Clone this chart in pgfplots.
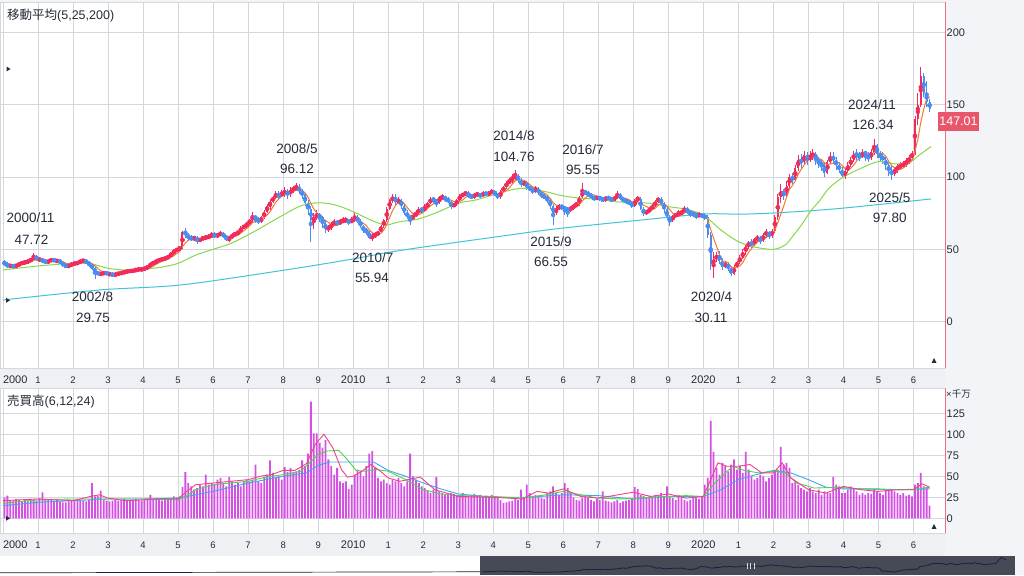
\documentclass[border=0pt]{standalone}
\usepackage{pgfplots}
\usepackage{pgfplotstable}
\pgfplotsset{compat=1.18}
\usepackage{fontspec}
\setmainfont{Liberation Sans}
\newfontfamily\cjk{Noto Sans CJK JP}
\definecolor{pagebg}{HTML}{F3F4F7}
\definecolor{stripbg}{HTML}{EEF0F3}
\definecolor{gridc}{HTML}{D4D7DC}
\definecolor{txt}{HTML}{262B3A}
\definecolor{upc}{HTML}{F22B5B}
\definecolor{dnc}{HTML}{4A8CEF}
\definecolor{maA}{HTML}{F07A32}
\definecolor{maB}{HTML}{86D94A}
\definecolor{maC}{HTML}{3FC6D6}
\definecolor{volc}{HTML}{D350E2}
\definecolor{vmA}{HTML}{F2408A}
\definecolor{vmB}{HTML}{55D04A}
\definecolor{vmC}{HTML}{3FA6EE}
\definecolor{axred}{HTML}{EC6F7E}
\definecolor{pricebox}{HTML}{E8566C}
\definecolor{navdark}{HTML}{464956}
\definecolor{navline}{HTML}{1B2136}
\newcommand\Y[1]{{\fontsize{11}{12}\selectfont #1}}

% monthly candles Jan 2000 - Jun 2026: open high low close volume(x10M)
\pgfplotstableread{
o h l c v
41 42.5 38.5 40 25
40 41 37 38 27
38 40 37 39 22
39 40 36.5 38 21
38 40 37.5 39 23
39 41 38 40 22
40 42 39 41 20
41 42.5 39.5 41 22
41 43 40 42 21
42 44 41 43 23
43 47.72 42 45 22
45 46 42 43 21
43 44.5 41.5 43 24
43 44 40.5 42 31
42 43 40 41 23
41 43 40 42 22
42 44 41 43 23
43 44 41 42 21
42 43.5 40.5 42 22
42 43 40 41 20
41 42 38 39 19
39 40 37 38 19
38 40 37 39 20
39 41 38 40 21
40 41.5 39 40 22
40 42 39 41 21
41 43 40 42 22
42 43.5 41 42 21
42 43 40 41 20
41 42 38 39 22
39 40 36 37 42
37 38 29.75 34 26
34 35 32 33 27
33 34.5 31.5 33 33
33 35 32 34 22
34 35 32 33 21
33 34 31.5 33 20
33 34 31 32 21
32 34 31 33 22
33 34.5 32 33 21
33 35 32.5 34 22
34 35.5 33 34 23
34 36 33.5 35 22
35 36 34 35 21
35 36.5 34 35 22
35 37 34.5 36 23
36 37.5 35 36 22
36 37.5 35 36 21
36 38 35.5 37 22
37 39 36 38 23
38 41 37.5 40 28
40 42 39 41 23
41 43 40 42 22
42 44 41 43 23
43 44.5 42 43 21
43 45 42.5 44 22
44 46 43 45 23
45 48 44.5 47 24
47 50 46 49 26
49 51 48 50 25
50 52.5 49 51 26
51 63 50 62 37
62 65 58 60 55
60 61 56 58 42
58 60 55.5 57 38
57 59.5 56 58 34
58 59 54 56 36
56 58 55 57 40
57 59.5 56 58 38
58 60 56.5 58 52
58 60.5 57 59 40
59 62 58 60 42
60 62 58 59 40
59 61.5 58 60 46
60 62.5 59 61 48
61 62 58 59 42
59 60 55.5 57 38
57 59 55 58 49
58 61 57 60 44
60 62 59 61 40
61 63 60 62 42
62 66 61 65 38
65 67 64 66 44
66 69 65 68 46
68 71 67 70 44
70 75.5 69 73 46
73 74 68 71 64
71 72 67.5 69 44
69 73 68 72 42
72 77 71 76 48
76 81 75 80 52
80 84.5 77 83 69
83 87 82 86 54
86 90 85 88 48
88 90 84 87 50
87 91 86 89 46
89 93 86 90 61
90 92 85 88 55
88 93 86 91 60
91 94 89 92 54
92 96.12 90 93 56
93 95 88 90 58
90 92 85 88 69
88 89 80 82 62
82 84 74 78 77
78 80 55 70 139
70 75 64 72 101
72 77 70 74 101
74 75 69 72 90
72 73 65 68 84
68 70 61 64 93
64 67 62 65 70
65 69 63.5 67 62
67 71 66 69 52
69 70 66 68 60
68 71 67 69 44
69 72 68 70 42
70 72 68.5 70 44
70 71 67 69 35
69 72 68 70 40
70 75 69 72 52
72 74 68 69 58
69 71 65 66 56
66 67 61 63 50
63 65 60 62 62
62 63 57 58 77
58 61 55.94 59 80
59 62 58 60 60
60 63 59 62 48
62 67 61 66 44
66 71 65 70 46
70 79 69 78 42
78 85 77 84 40
84 88 82 86 46
86 88 80 83 44
83 86 81 84 48
84 85 78 80 42
80 81 74 75 38
75 77 71 73 44
73 74 67 71 77
71 75 70 73 50
73 77 72 75 46
75 79 74 78 42
78 79 75 77 38
77 81 76 79 36
79 83 78 82 33
82 86 81 85 30
85 86 82 84 34
84 85 79 82 49
82 87 81 86 32
86 88 84 86 30
86 87 83 85 28
85 86 82 83 28
83 84 78 80 30
80 82 79 81 29
81 85 80 84 27
84 88 83 87 28
87 89 86 88 30
88 90.5 87 89 27
89 90 85.5 87 26
87 88 84.5 86 28
86 89 85 88 29
88 89.5 86.5 88 27
88 89 85.5 87 28
87 90 86 89 26
89 90 87 88 27
88 90 87 89 26
89 91.5 88 90 28
90 91 87 88 24
88 89 85 86 25
86 91 85 90 22
90 94 89 93 18
93 97 92 96 19
96 99 95 97 20
97 102 96 99 21
99 104.76 98 101 23
101 102 96 98 22
98 99 93 95 34
95 97.5 94 96 25
96 97 91 93 40
93 94 90 92 30
92 93 88 90 26
90 94 89 92 28
92 93 87.5 89 27
89 90 85.5 87 24
87 88 84.5 86 23
86 87 82 84 30
84 85 78 80 32
80 81 66.55 75 38
75 80 74 78 30
78 81 77 80 28
80 81 77 79 30
79 80 74 78 42
78 79 72 77 36
77 80 76 79 30
79 81 77.5 80 25
80 83 79 82 22
82 87 80 86 21
86 95.55 85 90 24
90 91 87.5 89 28
89 90 86.5 88 24
88 89 85 86 22
86 87 83.5 85 20
85 87 84 86 23
86 87 83.5 85 22
85 86 82.5 84 32
84 87 83 86 21
86 87 84 85 20
85 86 82.5 84 19
84 87 83 86 20
86 90 85 88 22
88 89 84 85 18
85 86 82.5 84 20
84 85 81.5 83 21
83 84 80.5 82 22
82 83 78.5 80 24
80 85 79 84 37
84 87 83 85 35
85 86 77 78 28
78 79 73 75 27
75 77.5 74 76 24
76 79 75 78 26
78 81 77 80 25
80 84 79 83 28
83 86.5 82 85 27
85 86 80 82 30
82 83 75 78 26
78 79 70 72 38
72 74 66 70 26
70 74 69 73 24
73 75 72 74 22
74 77 73 75 28
75 77.5 73 76 25
76 80 75 78 22
78 79 74.5 76 20
76 77 72 75 22
75 76 72.5 74 24
74 75 71 73 25
73 75.5 72 74 23
74 75 71.5 73 26
73 75 70 72 40
72 74 58 60 48
60 62 36 40 116
40 48 30.11 43 79
43 48 41 46 60
46 49 40 42 52
42 44 36 38 66
38 42 37 40 62
40 41 35 37 56
37 38 31.5 33 64
33 39 32 38 70
38 42 37 41 58
41 46 40 44 62
44 50 43 48 54
48 54 46 52 79
52 56 50 55 58
55 57 51 53 50
53 58 52 57 46
57 60 55 58 48
58 59 54 56 52
56 61 55 60 50
60 64 58 62 44
62 63 57 59 48
59 64 58 63 52
63 74 61 72 55
72 88 70 86 58
86 95 82 90 85
90 92 84 88 64
88 97 86 94 66
94 102 92 100 60
100 103 95 98 42
98 108 97 106 44
106 115 104 112 40
112 116 106 110 36
110 118 108 115 34
115 117 108 112 32
112 118 110 114 36
114 119 112 116 32
116 117 108 112 30
112 114 106 110 34
110 112 104 108 28
108 110 100 103 32
103 112 102 110 30
110 117 109 114 30
114 117 109 112 49
112 114 105 108 40
108 110 103 105 38
105 107 99 101 30
101 106 98.5 104 30
104 110 103 108 34
108 114 107 112 38
112 118 110 116 36
116 119 112 115 32
115 117 111 114 28
114 119 113 117 30
117 118 111 116 28
116 117 110 113 30
113 119 112 117 29
117 126.34 115 122 34
122 123 113 116 32
116 118 111 114 30
114 117 109 112 28
112 114 105 108 34
108 110 101 104 33
104 108 97.80 102 35
102 107 101 105 32
105 109 103 107 30
107 110 105 108 28
108 111 106 109 30
109 113 107 111 27
111 115 109 113 28
113 118 112 116 26
116 142 115 140 40
140 158 136 150 42
150 176 148 170 54
170 172 155 158 38
158 166 148 152 37
152 154 145 147.01 15
}\price

% 5-month moving average of the close column
\def\mA{41}\def\mB{41}\def\mC{41}\def\mD{41}
\pgfplotstablecreatecol[create col/assign/.code={%
  \getthisrow{c}\cur
  \pgfmathsetmacro\res{(\cur+\mA+\mB+\mC+\mD)/5}%
  \xdef\mD{\mC}\xdef\mC{\mB}\xdef\mB{\mA}\xdef\mA{\cur}%
  \pgfkeyslet{/pgfplots/table/create col/next content}\res}]{ma}\price

% 25-month MA
\pgfplotstableread{
x y
0 35.7
12 38.5
24 40.3
30 40
36 36.9
42 35.7
48 36.4
54 37.6
60 40.3
66 46
72 50
78 54
84 60
90 66.8
96 73.7
102 80
108 82.2
114 80.6
120 76
126 70.3
131 66.8
136 69.1
142 70.8
148 74.9
156 81.8
162 84.1
168 87.6
174 91
179 92.2
186 89.8
192 86.9
198 85.3
204 84.6
210 82.9
216 82.2
222 81.8
228 79.5
234 77.7
240 73.7
246 63.4
252 55.3
258 51.4
264 50
268 53
271 60
274 68
277 77
280 84
283 92.2
288 100
294 106
300 110.6
306 109
311 110.6
314 115.2
318 121
}\maBtab

% 200-month MA
\pgfplotstableread{
x y
0 15
33 21.9
61 25.4
96 35.5
119 43
137 49.5
174 60
191 64.5
219 70.3
240 74.4
253 74.3
266 75.3
287 78.3
318 84.8
}\maCtab

% volume MAs (6, 12, 24)
\pgfplotstableread{
x y
0 21
6 22
12 23
18 22
24 21
30 26
33 28
36 24
42 21
48 22
54 23
60 23
63 32
66 40
72 42
78 44
84 46
88 50
92 52
96 57
100 57
104 65
107 88
110 100
113 84
116 58
118 49
120 50
123 56
126 64
129 57
132 48
136 44
140 47
143 49
148 34
156 26
168 25
178 23
183 32
187 30
192 35
198 26
204 24
216 31
222 26
228 29
234 24
240 26
243 50
245 66
248 62
252 62
256 64
260 54
264 54
267 66
270 48
276 34
282 30
288 38
294 34
300 32
306 34
312 34
315 41
317.5 37
}\vmAtab
\pgfplotstableread{
x y
0 18
12 22
24 23
36 23
48 23
60 22
63 27
66 34
72 40
78 42
84 44
90 49
96 52
102 56
105 66
108 76
111 80
115 81
118 70
121 57
124 56
128 58
132 56
138 46
144 34
150 29
156 27
168 26
178 24
186 28
192 32
198 28
204 24
213 23
222 25
234 27
240 26
244 42
250 62
254 57
259 54
264 56
268 54
272 42
278 36
286 37
294 35
303 34
312 34
317.5 37
}\vmBtab
\pgfplotstableread{
x y
0 15
12 19
24 21
36 23
48 23
60 24
72 32
84 42
96 50
104 54
108 63
112 67
120 67
127 67
132 57
138 50
144 42
150 35
156 29
168 25
180 25
192 28
204 27
216 23
228 26
240 26
246 34
252 46
258 52
264 57
270 54
276 46
282 37
288 35
300 35
306 34
317.5 35
}\vmCtab

\pgfplotsset{
  panel/.style={
    anchor=south west, scale only axis, width=945pt,
    xmin=-1.03, xmax=322.8,
    axis background/.style={fill=white},
    axis line style={draw=gridc, line width=0.8pt},
    grid=major, grid style={draw=gridc, line width=0.8pt},
    major tick length=0pt,
    xtick={0,12,...,312},
    xticklabels={{\makebox[0pt][l]{\Y{2000}}},1,2,3,4,5,6,7,8,9,\Y{2010},1,2,3,4,5,6,7,8,9,\Y{2020},1,2,3,4,5,6},
    xticklabel style={anchor=base, yshift=-15.5pt, font=\fontsize{9.5}{10}\selectfont, text=txt},
    yticklabel pos=right,
    yticklabel style={anchor=west, inner sep=0pt, xshift=1.5pt, font=\fontsize{11}{12}\selectfont, text=txt},
    /pgf/number format/assume math mode=true,
  },
  candle/.style={only marks, mark=none, color=#1,
    error bars/.cd, y dir=both, y explicit, error mark=none},
}

\begin{document}
\begin{tikzpicture}[x=1pt,y=1pt]
\fill[pagebg] (0,0) rectangle (1024,575);
\useasboundingbox (0,0) rectangle (1024,575);
\fill[stripbg] (0,187) rectangle (945,207);
\fill[stripbg] (0,19) rectangle (945,42);
% navigator
\fill[white] (0,0) rectangle (480,19);
\fill[navdark] (480,0) rectangle (1015,19);
\draw[navline, line width=0.7pt] (0,2.2) -- (480,3.2);

% ---------------- price panel
\begin{axis}[panel, at={(0pt,207pt)}, height=366pt,
  ymin=-32, ymax=220.9, ytick={0,50,...,200},
  restrict y to domain=-100:400]
% wicks
\addplot[candle=upc, error bar style={line width=0.8pt}]
  table[x expr=\coordindex+0.5,
        y expr={\thisrow{c}>=\thisrow{o} ? (\thisrow{h}+\thisrow{l})/2 : -500},
        y error expr={(\thisrow{h}-\thisrow{l})/2}] {\price};
\addplot[candle=dnc, error bar style={line width=0.8pt}]
  table[x expr=\coordindex+0.5,
        y expr={\thisrow{c}<\thisrow{o} ? (\thisrow{h}+\thisrow{l})/2 : -500},
        y error expr={(\thisrow{h}-\thisrow{l})/2}] {\price};
% bodies
\addplot[candle=upc, error bar style={line width=2pt}]
  table[x expr=\coordindex+0.5,
        y expr={\thisrow{c}>=\thisrow{o} ? (\thisrow{o}+\thisrow{c})/2 : -500},
        y error expr={max(abs(\thisrow{c}-\thisrow{o})/2,0.35)}] {\price};
\addplot[candle=dnc, error bar style={line width=2pt}]
  table[x expr=\coordindex+0.5,
        y expr={\thisrow{c}<\thisrow{o} ? (\thisrow{o}+\thisrow{c})/2 : -500},
        y error expr={max(abs(\thisrow{c}-\thisrow{o})/2,0.35)}] {\price};
% moving averages
\addplot[maC, line width=1pt, smooth] table {\maCtab};
\addplot[maB, line width=1pt, smooth] table {\maBtab};
\addplot[maA, line width=1pt] table[x expr=\coordindex+0.5, y=ma] {\price};
\end{axis}

% ---------------- volume panel
\begin{axis}[panel, at={(0pt,42pt)}, height=145pt,
  ymin=-17.5, ymax=155.1, ytick={0,25,...,125}]
\addplot[ybar, bar width=1.8pt, fill=volc, draw=none]
  table[x expr=\coordindex+0.5, y=v] {\price};
\addplot[vmC, line width=0.9pt] table {\vmCtab};
\addplot[vmB, line width=0.9pt] table {\vmBtab};
\addplot[vmA, line width=0.9pt] table {\vmAtab};
\end{axis}

% ---------------- navigator
\begin{axis}[at={(480pt,0pt)}, anchor=south west, scale only axis,
  width=535pt, height=19pt, hide axis,
  xmin=-1.03, xmax=322.8, ymin=8, ymax=182]
\addplot[navline, line width=0.8pt] table[x expr=\coordindex+0.5, y=c] {\price};
\end{axis}
\foreach \gx in {747,750.5,754} \draw[white!80!navdark, line width=0.8pt] (\gx,6.5) -- (\gx,12.5);

% right axis lines
\draw[axred, line width=1pt] (945,207) -- (945,573);
\draw[axred, line width=1pt] (945,42) -- (945,187);

% headers
\node[anchor=base west, inner sep=0pt, text=txt, font=\fontsize{12.5}{14}\selectfont] at (7,555.5) {{\cjk 移動平均}(5,25,200)};
\node[anchor=base west, inner sep=0pt, text=txt, font=\fontsize{12.5}{14}\selectfont] at (7,169) {{\cjk 売買高}(6,12,24)};
\node[anchor=base west, inner sep=0pt, text=txt, font=\fontsize{9.5}{11}\selectfont] at (946,177) {×{\cjk 千万}};

% small markers
\fill[txt] (6.5,503.5) -- (10.5,506) -- (6.5,508.5) -- cycle;
\fill[txt] (6,272.2) -- (10,274.7) -- (6,277.2) -- cycle;
\fill[txt] (6,54.2) -- (10,56.7) -- (6,59.2) -- cycle;
\fill[txt] (931.5,212) -- (936.5,212) -- (934,217) -- cycle;
\fill[txt] (931.5,46) -- (936.5,46) -- (934,51) -- cycle;

% last price box
\fill[pricebox] (937.7,444.3) rectangle (979.3,463.3);
\node[anchor=base, inner sep=0pt, text=white, font=\fontsize{12.5}{14}\selectfont] at (958.5,449.3) {147.01};

% annotations
\begin{scope}[every node/.style={anchor=base, inner sep=0pt, text=txt, font=\fontsize{13.5}{15}\selectfont}]
\node at (30.5,352.2) {2000/11};
\node at (31.5,330.5) {47.72};
\node at (92.5,273.2) {2002/8};
\node at (93,252.2) {29.75};
\node at (297,421.5) {2008/5};
\node at (297,401.5) {96.12};
\node at (372.7,312.2) {2010/7};
\node at (372,292.2) {55.94};
\node at (514,434.2) {2014/8};
\node at (514,413.2) {104.76};
\node at (583,420.2) {2016/7};
\node at (583,400.2) {95.55};
\node at (551,328.2) {2015/9};
\node at (551,308.2) {66.55};
\node at (711.5,273.2) {2020/4};
\node at (711,252.2) {30.11};
\node at (872,465.2) {2024/11};
\node at (873,445.2) {126.34};
\node at (889.7,372.5) {2025/5};
\node at (889.7,352.5) {97.80};
\end{scope}
\end{tikzpicture}
\end{document}
